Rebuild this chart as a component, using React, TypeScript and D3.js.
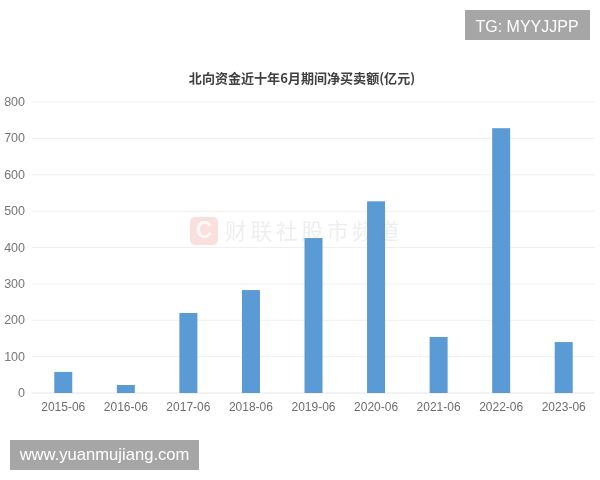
import React from "react";
import * as d3 from "d3";

const categories = ["2015-06","2016-06","2017-06","2018-06","2019-06","2020-06","2021-06","2022-06","2023-06"];
const values = [58,22,220,283,426,527,154,728,140];
const yTicks = [0,100,200,300,400,500,600,700,800];
const titleText = "北向资金近十年6月期间净买卖额(亿元)";
const watermarkText = "财联社股市频道";
const topBadge = "TG: MYYJJPP";
const bottomBadge = "www.yuanmujiang.com";

const sans = "'Liberation Sans','Noto Sans CJK SC',sans-serif";
const cjk = "'Noto Sans CJK SC',sans-serif";

export default function App() {
  const x = d3.scaleBand<string>().domain(categories).range([32, 595]);
  const y = d3.scaleLinear().domain([0, 800]).range([393, 102]);
  const bw = 18;
  return (
    <svg width={600} height={480} style={{ position: "fixed", left: 0, top: 0, background: "#fff", filter: "blur(0.4px)" }}>
      {yTicks.map((t) => (
        <g key={t}>
          <line x1={32} x2={595} y1={y(t)} y2={y(t)} stroke={t === 0 ? "#e3e6ea" : "#f0f0f0"} strokeWidth={1} />
          <text x={25} y={y(t) + 4} textAnchor="end" fontFamily={sans} fontSize={12.5} fill="#777">{t}</text>
        </g>
      ))}
      {categories.map((c, i) => {
        const cx = x(c)! + x.bandwidth() / 2;
        return (
          <g key={c}>
            <rect x={cx - bw / 2} y={y(values[i])} width={bw} height={y(0) - y(values[i])} fill="#5b9bd5" />
            <text x={cx} y={411} textAnchor="middle" fontFamily={sans} fontSize={12} fill="#6e6e6e">{c}</text>
          </g>
        );
      })}
      <g>
        <rect x={190} y={217} width={28} height={28} rx={5} fill="#e0301e" fillOpacity={0.15} />
        <text x={204} y={238} textAnchor="middle" fontFamily={sans} fontWeight={700} fontSize={23} fill="#fff" fillOpacity={0.8}>C</text>
        <text x={225} y={239} fontFamily={cjk} fontSize={22} letterSpacing={3.4} fill="#888" fillOpacity={0.14}>{watermarkText}</text>
      </g>
      <text x={302} y={82.5} textAnchor="middle" fontFamily={cjk} fontWeight={700} fontSize={13.05} fill="#404040">{titleText}</text>
      <rect x={465} y={10} width={125} height={30} fill="#a6a6a6" />
      <text x={527} y={31.5} textAnchor="middle" fontFamily={sans} fontSize={16} fill="#fff">{topBadge}</text>
      <rect x={10} y={440} width={189} height={30} fill="#a6a6a6" />
      <text x={104.5} y={460} textAnchor="middle" fontFamily={sans} fontSize={16.6} fill="#fff">{bottomBadge}</text>
    </svg>
  );
}
